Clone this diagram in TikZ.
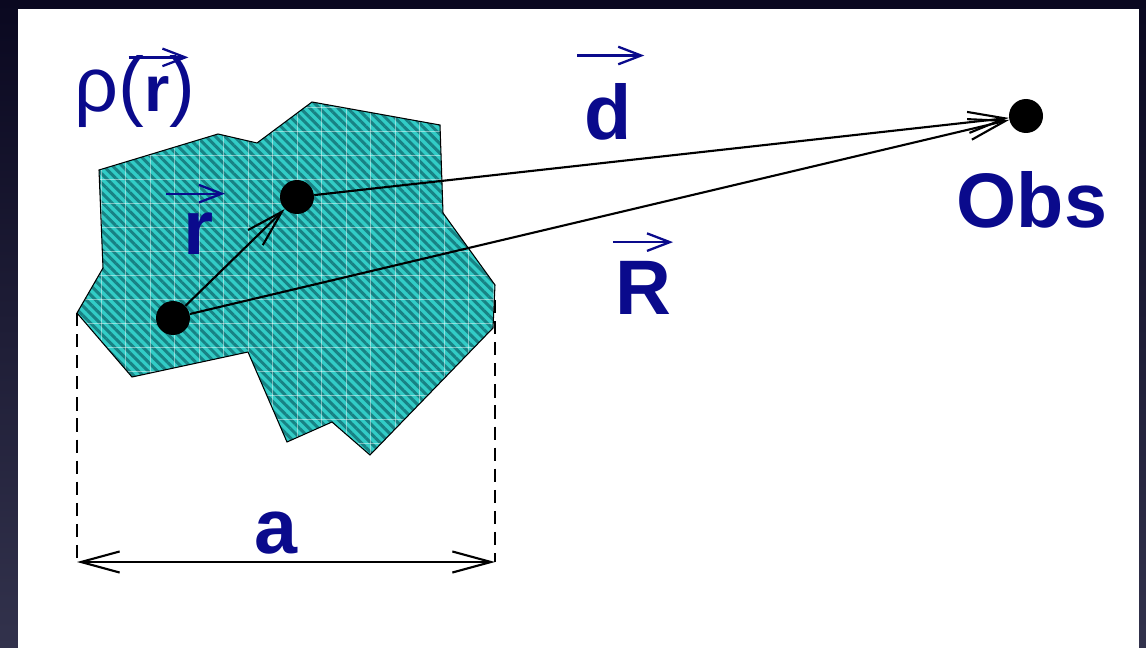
\documentclass[tikz,border=0pt]{standalone}
\usepackage{fontspec}
\setmainfont{Liberation Sans}
\usepackage{tikz}
\usetikzlibrary{arrows.meta, positioning, patterns.meta}
\usepackage{xcolor}
\definecolor{navytext}{RGB}{10,10,140}
\definecolor{tealfill}{RGB}{50,204,198}
\definecolor{tealhatch}{RGB}{24,130,132}
\definecolor{framehigh}{RGB}{10,8,32}
\definecolor{framelow}{RGB}{50,50,76}
\tikzstyle{blob}    = [fill=tealfill, postaction={pattern={Lines[angle=-45,distance=3.8pt,line width=1.7pt]}, pattern color=tealhatch}]
\tikzstyle{outline} = [draw=black, line width=0.6pt]
\tikzstyle{gridline} = [draw=white, line width=0.5pt, opacity=0.45]
\tikzstyle{dot}     = [circle, fill=black, minimum size=0.68cm, inner sep=0pt]
\tikzstyle{lbl}     = [text=navytext, inner sep=0pt, font=\fontsize{44}{48}\selectfont]
\tikzstyle{arrow}   = [line width=1.2pt, -{Straight Barb[length=21pt,width=12pt]}]
\tikzstyle{dimline} = [line width=1.2pt, {Straight Barb[length=22pt,width=12pt]}-{Straight Barb[length=22pt,width=12pt]}]
\tikzstyle{guide}   = [line width=1.1pt, dash pattern=on 7.5pt off 4.5pt]
\tikzstyle{vecmark} = [draw=navytext, line width=1.3pt, -{Straight Barb[length=13pt,width=10pt]}]
\newcommand{\blobpath}{(99,170) -- (218,134) -- (257,143) -- (312,102) -- (440,125) -- (443,213) -- (495,285) -- (493,328) -- (370,455) -- (332,422) -- (287,442) -- (248,352) -- (132,377) -- (77,313) -- (103,268) -- cycle}

\begin{document}
\begin{tikzpicture}[x=0.02cm, y=-0.02cm]

  % frame and page
  \useasboundingbox (0,0) rectangle (1146,648);
  \shade[top color=framehigh, bottom color=framelow] (0,0) rectangle (1146,648);
  \fill[white] (18,9) rectangle (1139,648);

  % charge distribution
  \fill[blob] \blobpath;
  \begin{scope}
    \clip \blobpath;
    \foreach \gx in {101,125.5,...,494} \draw[gridline] (\gx,95) -- (\gx,460);
    \foreach \gy in {107,131,...,444} \draw[gridline] (70,\gy) -- (500,\gy);
  \end{scope}
  \draw[outline] \blobpath;

  % points
  \node[dot] (src) at (173,318) {};
  \node[dot] (pt) at (297,197) {};
  \node[dot] (obs) at (1026,116) {};

  % labels
  \node[lbl, anchor=base west] (rho) at (74,112) {ρ({\fontsize{37}{40}\selectfont\textbf{r}})};
  \node[lbl, anchor=base] (rlbl) at (199,255) {\textbf{r}};
  \node[lbl, anchor=base] (dlbl) at (608,140) {\textbf{d}};
  \node[lbl, anchor=base] (Rlbl) at (643,315) {\textbf{R}};
  \node[lbl, anchor=base] (obslbl) at (1032,228) {\textbf{Obs}};
  \node[lbl, anchor=base] (albl) at (276,553) {\textbf{a}};

  % vector marks
  \draw[vecmark] ([xshift=-38pt,yshift=-1pt]rho.north east) -- ([xshift=-4pt,yshift=-1pt]rho.north east);
  \draw[vecmark] ([xshift=-10pt,yshift=11pt]rlbl.north west) -- ([xshift=6pt,yshift=11pt]rlbl.north east);
  \draw[vecmark] ([xshift=-4pt,yshift=16pt]dlbl.north west) -- ([xshift=7pt,yshift=16pt]dlbl.north east);
  \draw[vecmark] ([xshift=-1pt,yshift=11pt]Rlbl.north west) -- ([xshift=1pt,yshift=11pt]Rlbl.north east);

  % vectors
  \draw[arrow] (src) -- (pt);
  \draw[arrow] (pt) -- (obs);
  \draw[arrow] (src) -- (obs);

  % size of the source
  \coordinate (edgeL) at (77,313);
  \coordinate (edgeR) at (495,300);
  \coordinate (dimL) at (77,562);
  \coordinate (dimR) at (495,562);
  \draw[guide] (edgeL) -- (dimL);
  \draw[guide] (edgeR) -- (dimR);
  \draw[dimline] (dimL) -- (dimR);

\end{tikzpicture}
\end{document}
